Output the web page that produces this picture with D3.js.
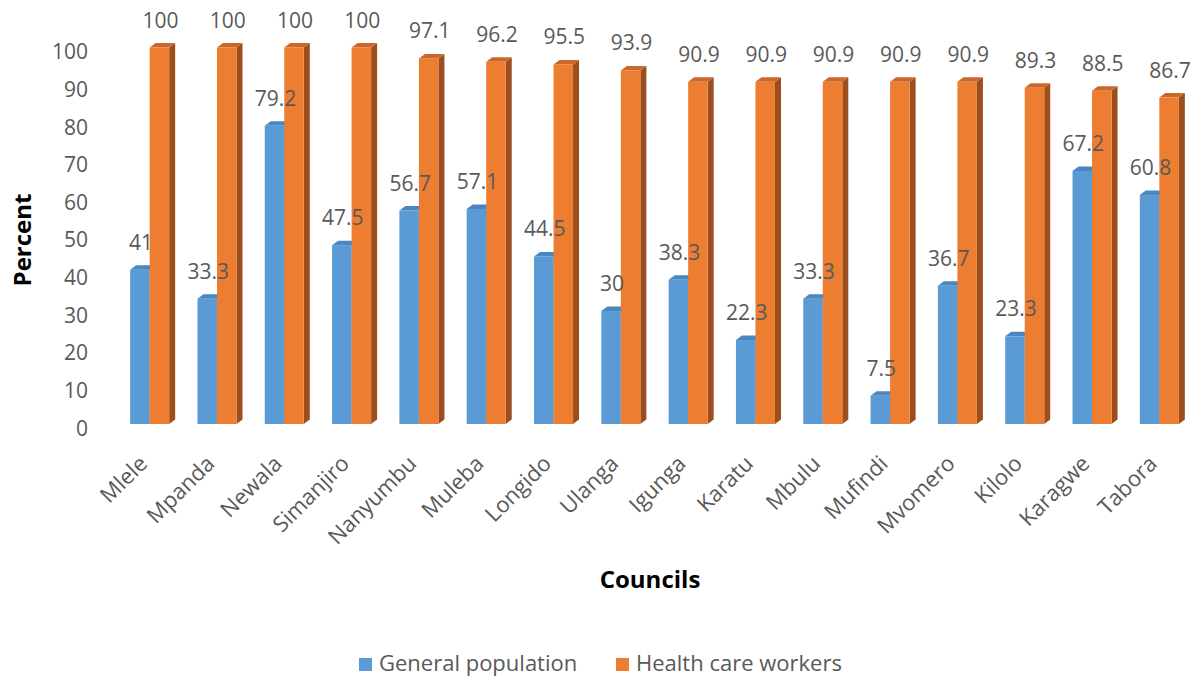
<!DOCTYPE html>
<html>
<head>
<meta charset="utf-8">
<script src="https://cdn.jsdelivr.net/npm/d3@7"></script>
<style>
  body { margin: 0; background: #fff; }
  svg { display: block; }
  text { font-family: "Open Sans", sans-serif; }
</style>
</head>
<body>
<svg id="chart" width="1198" height="679"></svg>
<script>
const councils = ["Mlele","Mpanda","Newala","Simanjiro","Nanyumbu","Muleba","Longido","Ulanga","Igunga","Karatu","Mbulu","Mufindi","Mvomero","Kilolo","Karagwe","Tabora"];
const generalPopulation = [41,33.3,79.2,47.5,56.7,57.1,44.5,30,38.3,22.3,33.3,7.5,36.7,23.3,67.2,60.8];
const healthCareWorkers = [100,100,100,100,97.1,96.2,95.5,93.9,90.9,90.9,90.9,90.9,90.9,89.3,88.5,86.7];
const seriesNames = ["General population","Health care workers"];
const yTicks = [0,10,20,30,40,50,60,70,80,90,100];

const colors = {
  "General population": {front:"#5B9BD5", top:"#4A86BF", side:"#3F74A6"},
  "Health care workers": {front:"#ED7D31", top:"#C9682A", side:"#9C4F1C"}
};

const svg = d3.select("#chart");
const depthX = 6, depthY = -4.5, frontShift = -4.5;

const x0 = d3.scaleBand().domain(councils).range([116, 1193]).paddingInner(0.42).paddingOuter(0.21);
const x1 = d3.scaleBand().domain(seriesNames).range([0, x0.bandwidth()]).padding(0);
const y = d3.scaleLinear().domain([0, 100]).range([428.5, 52]);
const yF = v => y(v) + frontShift;

// Y tick labels
const yAxis = d3.axisLeft(y).tickValues(yTicks).tickSize(0).tickPadding(0);
const gy = svg.append("g").attr("transform", "translate(88,0)").call(yAxis);
gy.select(".domain").remove();
gy.selectAll("text").attr("font-size", 21).attr("fill", "#595959")
  .attr("font-family", "'Open Sans', sans-serif");

const data = councils.map((c, i) => ({council: c, values: [
  {s: seriesNames[0], v: generalPopulation[i]},
  {s: seriesNames[1], v: healthCareWorkers[i]}
]}));

const groups = svg.append("g").selectAll("g").data(data).join("g")
  .attr("transform", d => `translate(${x0(d.council)},0)`);

groups.each(function(d) {
  const g = d3.select(this);
  d.values.forEach(b => {
    const bx = x1(b.s), w = x1.bandwidth();
    const yt = yF(b.v), yb = yF(0);
    const c = colors[b.s];
    g.append("polygon")
      .attr("points", [[bx + w, yt], [bx + w + depthX, yt + depthY], [bx + w + depthX, yb + depthY], [bx + w, yb]].join(" "))
      .attr("fill", c.side);
    g.append("polygon")
      .attr("points", [[bx, yt], [bx + depthX, yt + depthY], [bx + w + depthX, yt + depthY], [bx + w, yt]].join(" "))
      .attr("fill", c.top);
    g.append("rect").attr("x", bx).attr("y", yt).attr("width", w).attr("height", yb - yt).attr("fill", c.front);
  });
  d.values.forEach(b => {
    const bx = x1(b.s), w = x1.bandwidth();
    g.append("text")
      .attr("x", bx + w / 2 + 1)
      .attr("y", yF(b.v) - 20)
      .attr("text-anchor", "middle")
      .attr("font-size", 21)
      .attr("fill", "#595959")
      .text(b.v);
  });
});

// X category labels
const xAxis = svg.append("g");
councils.forEach(c => {
  const cx = x0(c) + x0.bandwidth() / 2;
  xAxis.append("text")
    .attr("transform", `translate(${cx - 1},465) rotate(-45)`)
    .attr("text-anchor", "end")
    .attr("font-size", 22)
    .attr("fill", "#595959")
    .text(c);
});

// Axis titles
svg.append("text")
  .attr("transform", "translate(31,240) rotate(-90)")
  .attr("text-anchor", "middle")
  .attr("font-size", 24).attr("font-weight", "bold").attr("fill", "#000")
  .text("Percent");
svg.append("text")
  .attr("x", 650).attr("y", 588)
  .attr("text-anchor", "middle")
  .attr("font-size", 24).attr("font-weight", "bold").attr("fill", "#000")
  .text("Councils");

// Legend
const legendItems = [
  {s: seriesNames[0], x: 359},
  {s: seriesNames[1], x: 616}
];
const lg = svg.append("g");
legendItems.forEach(it => {
  lg.append("rect").attr("x", it.x).attr("y", 658).attr("width", 13).attr("height", 13).attr("fill", colors[it.s].front);
  lg.append("text").attr("x", it.x + 20).attr("y", 671).attr("font-size", 22).attr("fill", "#595959").text(it.s);
});
</script>
</body>
</html>
